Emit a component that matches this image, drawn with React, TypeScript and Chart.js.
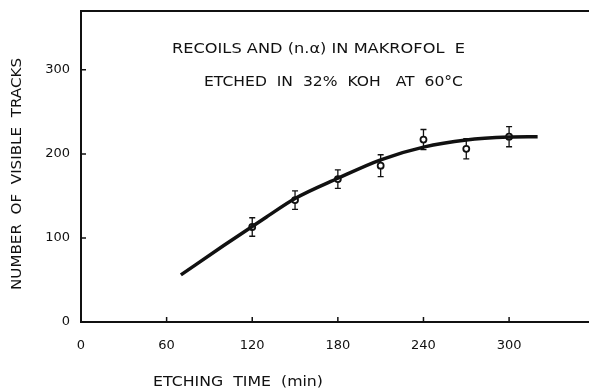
import React, { useEffect, useRef } from 'react';
import { Chart, registerables } from 'chart.js';
Chart.register(...registerables);

const etchTimes = [120, 150, 180, 210, 240, 270, 300];
const trackCounts = [113, 145, 170, 186, 217, 206, 220.5];
const trackErrors = [11, 11, 11, 13, 12, 12, 12];
const curveTimes = [70, 100, 130, 150, 180, 210, 240, 270, 300, 320];
const curveCounts = [56, 91, 125, 147, 171, 193, 208, 216.5, 220, 220.5];
const xTicks = [0, 60, 120, 180, 240, 300];
const yTicks = [0, 100, 200, 300];
const titleLine1 = 'RECOILS AND (n.α) IN MAKROFOL  E';
const titleLine2 = 'ETCHED  IN  32%  KOH   AT  60°C';
const xLabel = 'ETCHING  TIME  (min)';
const yLabel = 'NUMBER  OF  VISIBLE  TRACKS';

const FONT = '"DejaVu Sans", sans-serif';

function fitText(ctx: CanvasRenderingContext2D, text: string, cx: number, cy: number, width: number, size: number, rot = 0) {
  ctx.save();
  ctx.font = `${size}px ${FONT}`;
  const w = ctx.measureText(text).width;
  ctx.translate(cx, cy);
  ctx.rotate(rot);
  ctx.scale(width / w, 1);
  ctx.textAlign = 'center';
  ctx.textBaseline = 'middle';
  ctx.fillStyle = '#111';
  ctx.fillText(text, 0, 0);
  ctx.restore();
}

const framePlugin = {
  id: 'frame',
  beforeDatasetsDraw(chart: any) {
    const { ctx, scales } = chart;
    const xs = scales.x, ys = scales.y;
    ctx.save();
    ctx.strokeStyle = '#111';
    ctx.lineWidth = 1.3;
    etchTimes.forEach((t, i) => {
      const x = xs.getPixelForValue(t);
      const y1 = ys.getPixelForValue(trackCounts[i] + trackErrors[i]);
      const y2 = ys.getPixelForValue(trackCounts[i] - trackErrors[i]);
      ctx.beginPath();
      ctx.moveTo(x, y1); ctx.lineTo(x, y2);
      ctx.moveTo(x - 3, y1); ctx.lineTo(x + 3, y1);
      ctx.moveTo(x - 3, y2); ctx.lineTo(x + 3, y2);
      ctx.stroke();
    });
    ctx.restore();
  },
  afterDraw(chart: any) {
    const { ctx, chartArea: a, scales } = chart;
    const xs = scales.x, ys = scales.y;
    ctx.save();
    ctx.strokeStyle = '#111';
    ctx.lineWidth = 2;
    ctx.beginPath();
    ctx.moveTo(a.right, a.top); ctx.lineTo(a.left, a.top); ctx.lineTo(a.left, a.bottom); ctx.lineTo(a.right, a.bottom);
    ctx.stroke();
    ctx.lineWidth = 1.5;
    ctx.beginPath();
    yTicks.forEach(v => { const y = ys.getPixelForValue(v); ctx.moveTo(a.left, y); ctx.lineTo(a.left + 5, y); });
    xTicks.forEach(v => { const x = xs.getPixelForValue(v); ctx.moveTo(x, a.bottom); ctx.lineTo(x, a.bottom - 5); });
    ctx.stroke();
    ctx.restore();
    fitText(ctx, titleLine1, 318.5, 49, 293, 14);
    fitText(ctx, titleLine2, 333.5, 82, 259, 14);
    fitText(ctx, xLabel, 238, 382, 170, 14);
    fitText(ctx, yLabel, 17, 174, 232, 14, -Math.PI / 2);
  },
};

export default function App() {
  const ref = useRef<HTMLCanvasElement>(null);
  useEffect(() => {
    const chart = new Chart(ref.current!, {
      type: 'scatter',
      data: {
        datasets: [
          {
            type: 'line',
            data: curveTimes.map((t, i) => ({ x: t, y: curveCounts[i] })),
            borderColor: '#111',
            borderWidth: 3.5,
            pointRadius: 0,
            cubicInterpolationMode: 'monotone',
            fill: false,
          } as any,
          {
            data: etchTimes.map((t, i) => ({ x: t, y: trackCounts[i] })),
            pointRadius: 3,
            pointBorderWidth: 1.8,
            borderColor: '#111',
            backgroundColor: '#fff',
            showLine: false,
          },
        ],
      },
      options: {
        responsive: false,
        animation: false,
        layout: { autoPadding: false, padding: { top: 11, right: 0, left: 0, bottom: 0 } },
        plugins: { legend: { display: false }, tooltip: { enabled: false } },
        scales: {
          x: {
            type: 'linear',
            min: 0,
            max: 356,
            grid: { display: false },
            border: { display: false },
            afterBuildTicks: (s: any) => { s.ticks = xTicks.map(v => ({ value: v })); },
            afterFit: (s: any) => { s.height = 67; },
            ticks: { padding: 8, color: '#111', font: { family: FONT, size: 13 } },
          },
          y: {
            type: 'linear',
            min: 0,
            max: 370,
            grid: { display: false },
            border: { display: false },
            afterBuildTicks: (s: any) => { s.ticks = yTicks.map(v => ({ value: v })); },
            afterFit: (s: any) => { s.width = 81; },
            ticks: { padding: 3, color: '#111', font: { family: FONT, size: 13 } },
          },
        },
      },
      plugins: [framePlugin],
    });
    return () => chart.destroy();
  }, []);
  return (
    <div style={{ position: 'absolute', left: 0, top: 0 }}>
      <canvas ref={ref} width={589} height={389} />
    </div>
  );
}
